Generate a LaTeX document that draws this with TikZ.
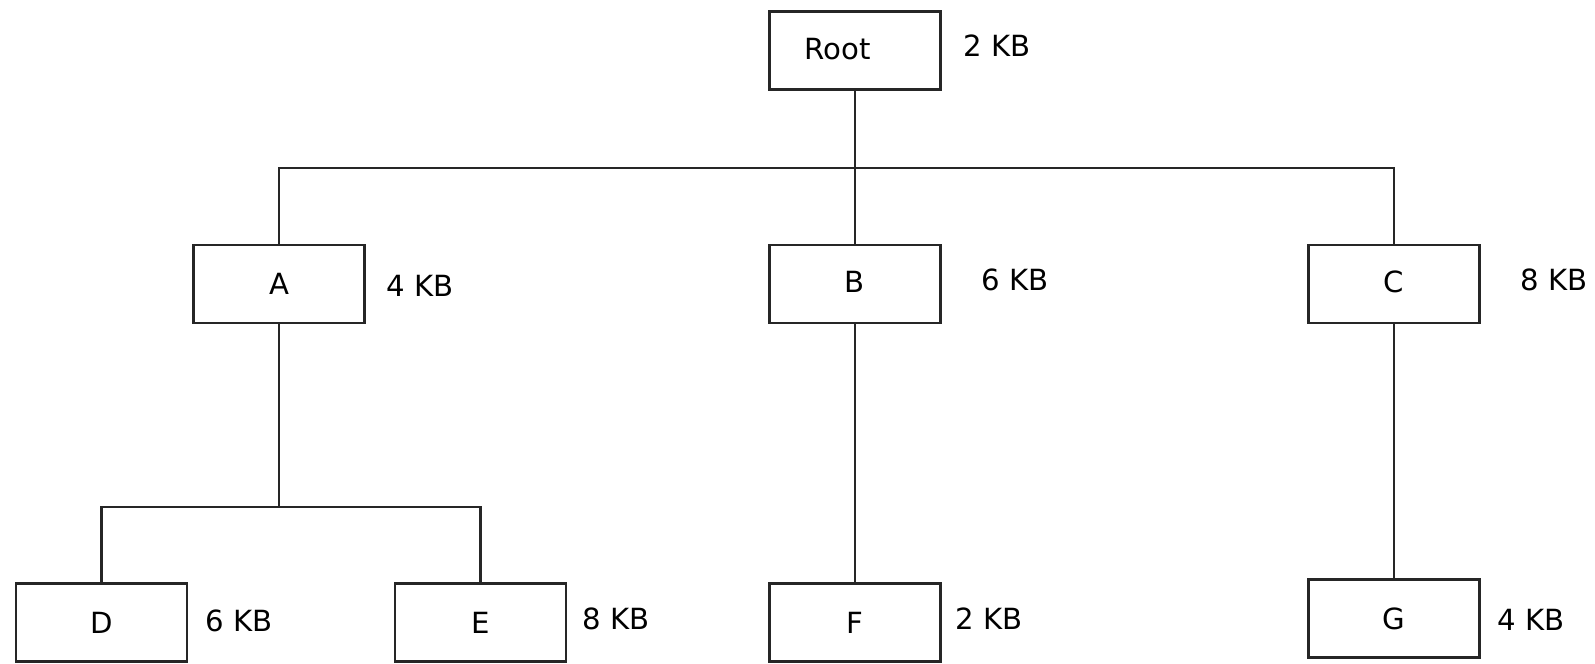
\documentclass[tikz,border=0pt]{standalone}
\usepackage{fontspec}
\setmainfont{DejaVu Sans}

\begin{document}
\begin{tikzpicture}[
    blk/.style={draw=black!85, line width=0.6pt, minimum width=1.71cm, minimum height=0.78cm, inner sep=0pt},
    size/.style={inner sep=0pt},
    wire/.style={draw=black!85, line width=0.6pt},
    font=\fontsize{8.3}{10}\selectfont
]
    \useasboundingbox (0,0) rectangle (15.95,6.63);

    % Root
    \node[blk] (root) at (8.55,6.125) {\raisebox{0.04cm}{Root}\rule{0.34cm}{0pt}};
    \node[size] (rootsz) at (9.97,6.17) {2 KB};

    % First level
    \node[blk] (a) at (2.79,3.79) {A};
    \node[size] (asz) at (4.20,3.77) {4 KB};
    \node[blk] (b) at (8.55,3.79) {\raisebox{0.04cm}{B}};
    \node[size] (bsz) at (10.15,3.83) {6 KB};
    \node[blk] (c) at (13.94,3.79) {\raisebox{0.04cm}{C}};
    \node[size] (csz) at (15.54,3.83) {8 KB};

    % Second level
    \node[blk] (d) at (1.015,0.405) {D};
    \node[size] (dsz) at (2.39,0.42) {6 KB};
    \node[blk] (e) at (4.805,0.405) {E};
    \node[size] (esz) at (6.16,0.44) {8 KB};
    \node[blk] (f) at (8.55,0.405) {F};
    \node[size] (fsz) at (9.89,0.44) {2 KB};
    \node[blk] (g) at (13.94,0.445) {G};
    \node[size] (gsz) at (15.31,0.43) {4 KB};

    % Connectors
    \coordinate (rootbus) at (8.55,4.95);
    \coordinate (abus) at (2.79,1.564);
    \draw[wire] (root) -- (rootbus);
    \draw[wire] (a.north) |- (rootbus) -| (c.north);
    \draw[wire] (rootbus) -- (b);
    \draw[wire] (a) -- (abus);
    \draw[wire] (d.north) |- (abus) -| (e.north);
    \draw[wire] (b) -- (f);
    \draw[wire] (c) -- (g);
\end{tikzpicture}
\end{document}
